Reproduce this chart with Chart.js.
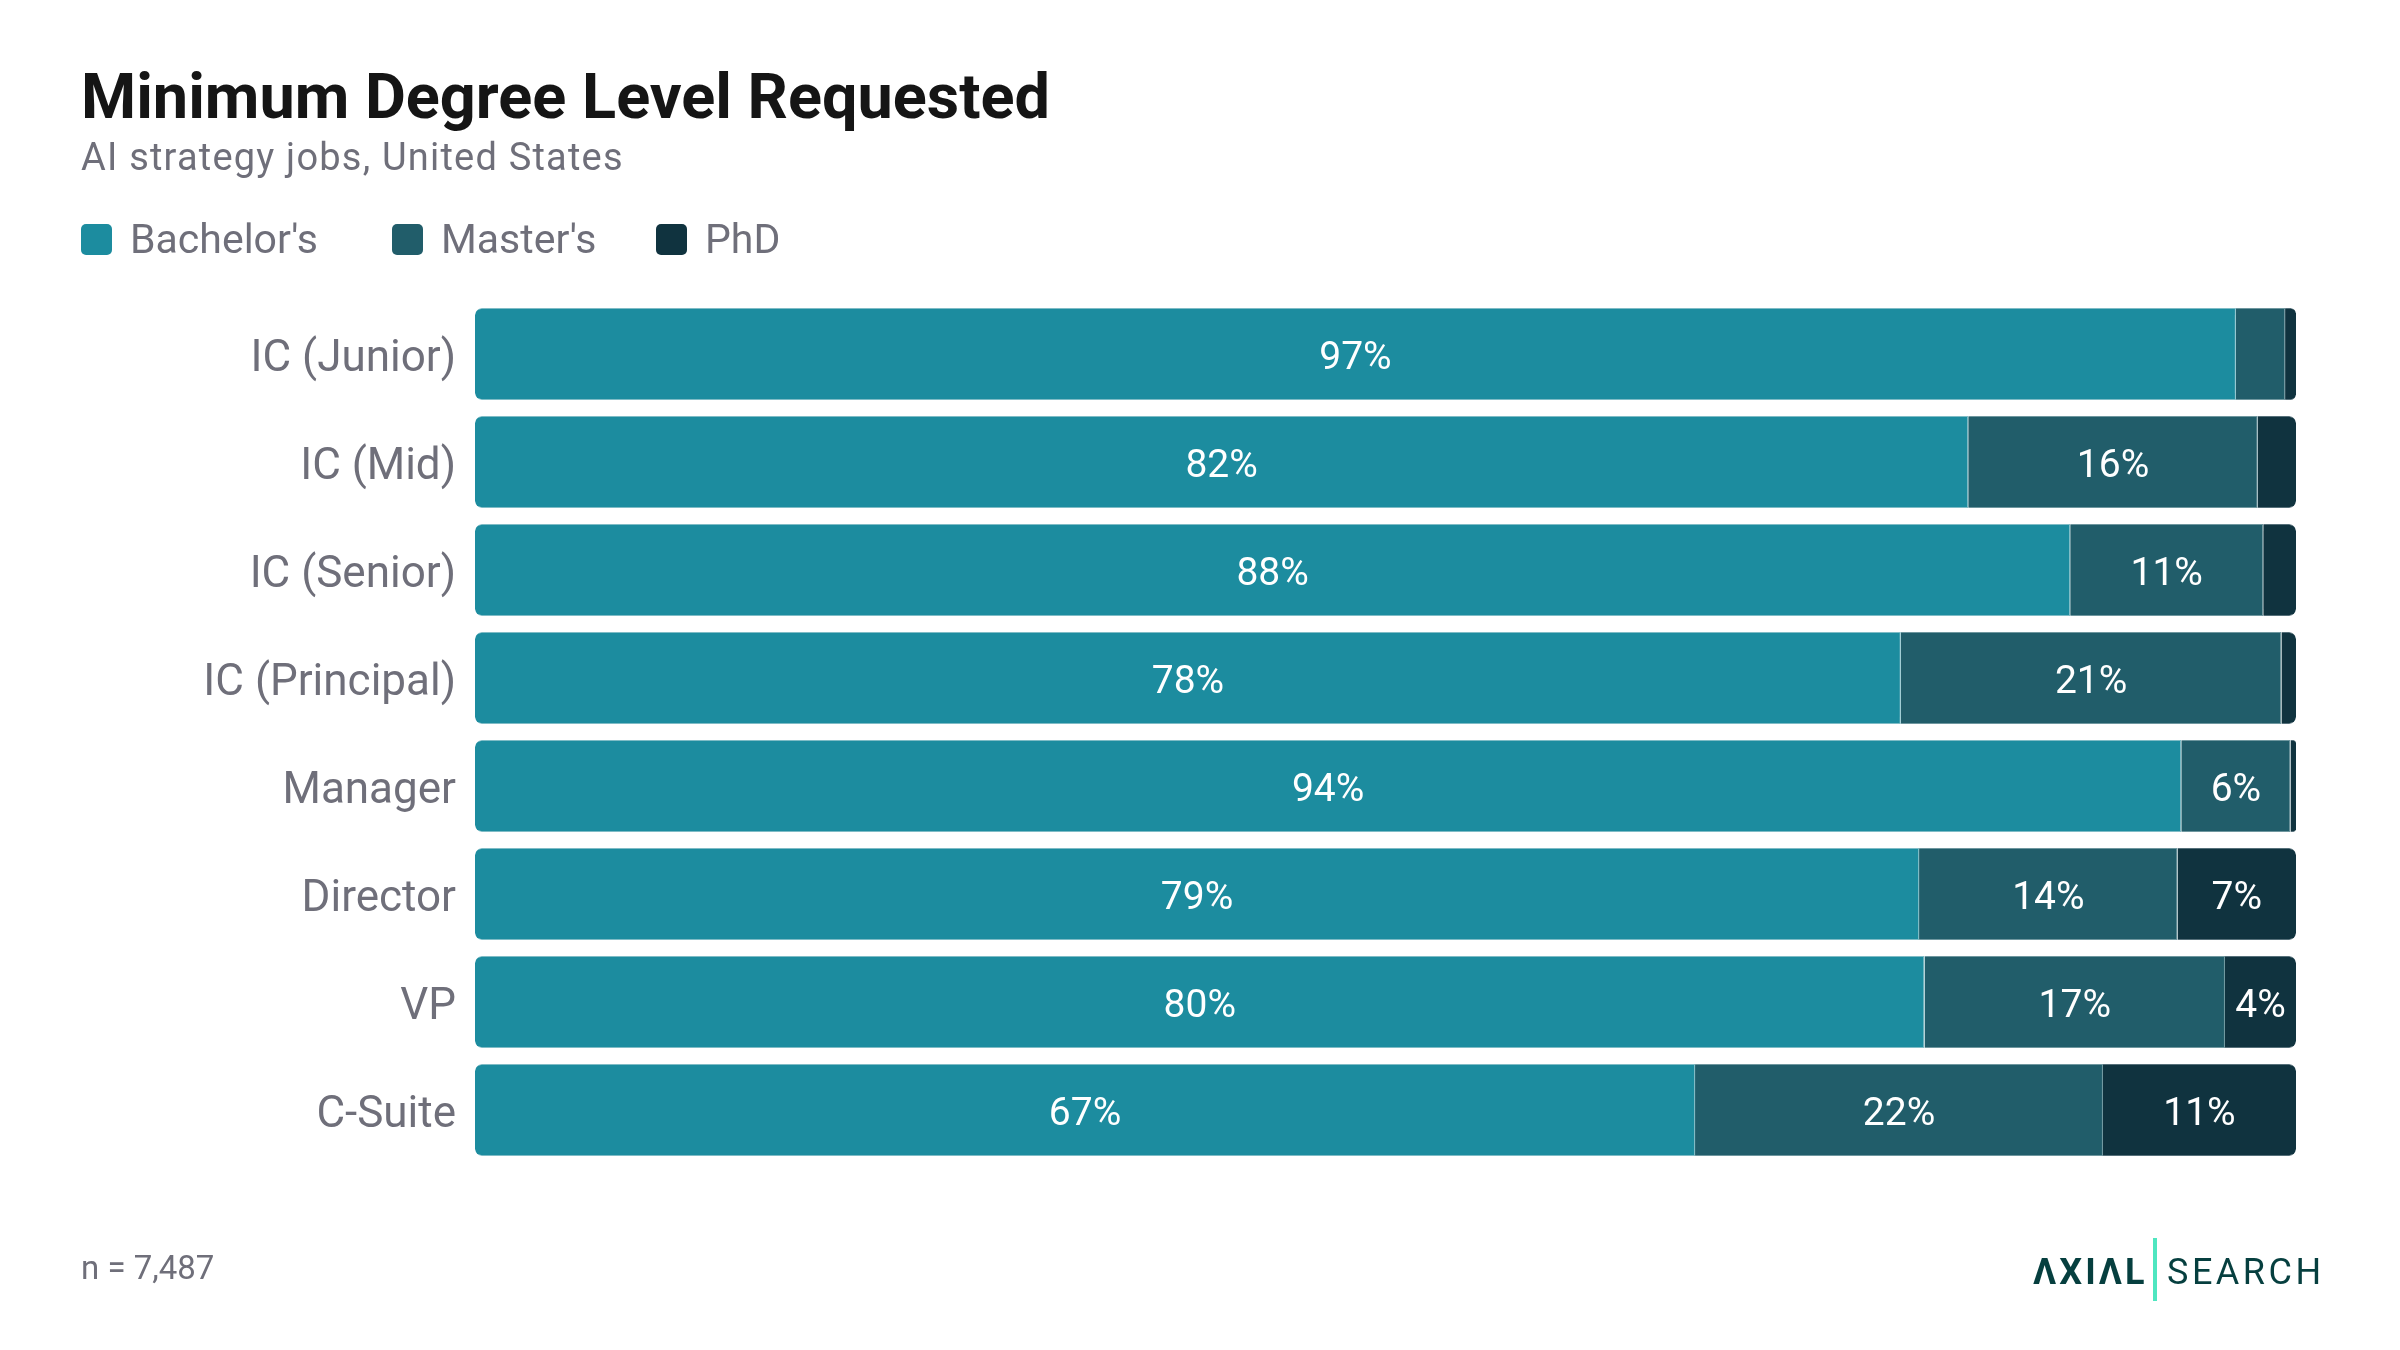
<!DOCTYPE html>
<html>
<head>
<meta charset="utf-8">
<script src="https://cdn.jsdelivr.net/npm/chart.js@4.4.1/dist/chart.umd.min.js"></script>
<style>
  html, body { margin: 0; padding: 0; background: #ffffff; }
  #wrap { position: relative; width: 2400px; height: 1350px; overflow: hidden; font-family: Roboto, "Noto Sans", sans-serif; }
  #chart { position: absolute; left: 0; top: 0; }
  .abs { position: absolute; line-height: 1; white-space: nowrap; }
  #title { left: 81px; top: 65px; font-size: 63px; font-weight: 700; color: #151515; }
  #subtitle { left: 81px; top: 138px; font-size: 38px; color: #6f6f7a; letter-spacing: 1.2px; }
  #legend { left: 81px; top: 224px; height: 31px; }
  .li { position: absolute; top: 0; display: flex; align-items: center; height: 31px; }
  .sw { width: 31px; height: 31px; border-radius: 5px; margin-right: 18px; }
  .lt { font-size: 41px; color: #6f6f7a; line-height: 1; }
  #note { left: 81px; top: 1251px; font-size: 33px; color: #6f6f7a; }
  #logoA { left: 2033px; top: 1254px; font-size: 36px; font-weight: 700; color: #063f3f; letter-spacing: 3px; }
  #logoBar { position: absolute; left: 2153px; top: 1238px; width: 4px; height: 63px; background: #4fe6c0; }
  #logoS { left: 2167px; top: 1254px; font-size: 36px; font-weight: 400; color: #063f3f; letter-spacing: 3.5px; }
</style>
</head>
<body>
<div id="wrap">
  <canvas id="chart" width="2400" height="1350"></canvas>
  <div id="title" class="abs">Minimum Degree Level Requested</div>
  <div id="subtitle" class="abs">AI strategy jobs, United States</div>
  <div id="legend" class="abs"></div>
  <div id="note" class="abs">n = 7,487</div>
  <div id="logoA" class="abs">ΛXIΛL</div>
  <div id="logoBar"></div>
  <div id="logoS" class="abs">SEARCH</div>
</div>
<script>
// ---- data ----
const categories = ["IC (Junior)", "IC (Mid)", "IC (Senior)", "IC (Principal)", "Manager", "Director", "VP", "C-Suite"];
const seriesNames = ["Bachelor's", "Master's", "PhD"];
const bachelors = [96.7, 82.0, 87.6, 78.3, 93.7, 79.3, 79.6, 67.0];
const masters   = [2.7, 15.9, 10.6, 20.9, 6.0, 14.2, 16.5, 22.4];
const phd       = [0.6, 2.1, 1.8, 0.8, 0.3, 6.5, 3.9, 10.6];
const seriesColors = ["#1c8c9f", "#215d6a", "#10333f"];
const seriesBorders = ["#7fbcc6", "#6f979f", "#56707a"];

// ---- legend (HTML) ----
const legendX = [0, 311, 575];
const legendEl = document.getElementById('legend');
seriesNames.forEach((name, i) => {
  const li = document.createElement('div');
  li.className = 'li';
  li.style.left = legendX[i] + 'px';
  const sw = document.createElement('div');
  sw.className = 'sw';
  sw.style.background = seriesColors[i];
  const lt = document.createElement('div');
  lt.className = 'lt';
  lt.textContent = name;
  li.appendChild(sw); li.appendChild(lt);
  legendEl.appendChild(li);
});

// ---- value labels plugin ----
const valueLabels = {
  id: 'valueLabels',
  afterDatasetsDraw(chart) {
    const ctx = chart.ctx;
    ctx.save();
    ctx.font = '39px Roboto';
    ctx.fillStyle = '#ffffff';
    ctx.textAlign = 'center';
    ctx.textBaseline = 'middle';
    chart.data.datasets.forEach((ds, i) => {
      const meta = chart.getDatasetMeta(i);
      meta.data.forEach((bar, j) => {
        const v = ds.data[j];
        if (v < 3) return;
        const p = bar.getProps(['x', 'base', 'y'], true);
        ctx.fillText(Math.round(v) + '%', (p.x + p.base) / 2, p.y + 5);
      });
    });
    ctx.restore();
  }
};

const R = 7;
const radii = [
  { topLeft: R, bottomLeft: R, topRight: 0, bottomRight: 0 },
  0,
  { topLeft: 0, bottomLeft: 0, topRight: R, bottomRight: R }
];
const widths = [
  { top: 1, bottom: 1, left: 0, right: 1 },
  { top: 1, bottom: 1, left: 0, right: 1 },
  { top: 1, bottom: 1, left: 0, right: 0 }
];
const seriesData = [bachelors, masters, phd];

new Chart(document.getElementById('chart'), {
  type: 'bar',
  data: {
    labels: categories,
    datasets: seriesNames.map((name, i) => ({
      label: name,
      data: seriesData[i],
      backgroundColor: seriesColors[i],
      borderColor: seriesBorders[i],
      borderWidth: widths[i],
      borderRadius: radii[i],
      borderSkipped: false,
      categoryPercentage: 1.0,
      barPercentage: 0.852
    }))
  },
  options: {
    indexAxis: 'y',
    responsive: false,
    animation: false,
    devicePixelRatio: 1,
    layout: { padding: { top: 300, bottom: 186, left: 0, right: 104 } },
    plugins: {
      legend: { display: false },
      title: { display: false },
      tooltip: { enabled: false }
    },
    scales: {
      x: {
        stacked: true,
        min: 0,
        max: 100,
        display: false
      },
      y: {
        stacked: true,
        grid: { display: false, drawTicks: false },
        border: { display: false },
        ticks: {
          padding: 19,
          labelOffset: 6,
          color: '#6f6f7a',
          font: { family: 'Roboto', size: 44 }
        },
        afterFit(scale) { scale.width = 475; }
      }
    }
  },
  plugins: [valueLabels]
});
</script>
</body>
</html>
